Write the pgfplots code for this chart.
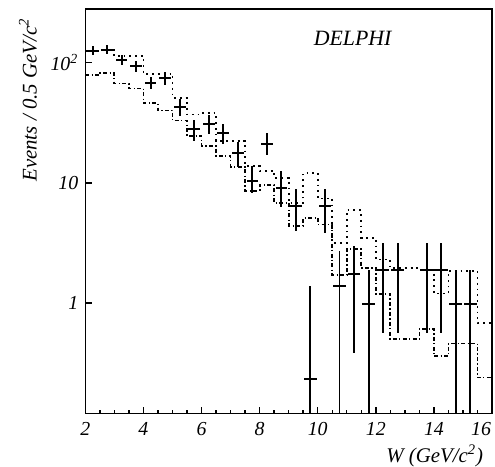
\documentclass[border=0pt]{standalone}
\usepackage{fontspec}
\setmainfont{Liberation Serif}
\usepackage{pgfplots}
\pgfplotsset{compat=1.18}
\usepackage{pgfplotstable}

% data points: bin centre, value, x half-width, y error plus, y error minus
\pgfplotstableread{
x     y      ex    ep    em
2.25  126    0.2   11    11
2.75  128    0.2   11    11
3.25  106    0.2   10    10
3.75  93     0.2   10    10
4.25  68     0.2   8     8
4.75  74     0.2   9     9
5.25  43     0.2   7     7
5.75  28     0.2   5.5   5.5
6.25  31     0.2   5.5   5.5
6.75  26     0.2   5     5
7.25  17.8   0.2   4.2   4.2
7.75  10.4   0.2   3.4   2.2
8.25  21.1   0.2   5.0   4.2
8.75  9.1    0.2   3.5   2.8
9.25  6.4    0.2   2.5   2.4
9.75  0.233  0.22  1.16  0.2
10.25 6.4    0.2   2.5   2.6
10.75 1.39   0.22  1.32  1.35
11.25 1.74   0.22  1.24  1.36
11.75 0.98   0.22  0.9   0.95
12.25 1.88   0.22  1.28  1.32
12.75 1.88   0.22  1.28  1.32
13.75 1.88   0.22  1.28  1.32
14.25 1.88   0.22  1.28  1.32
14.75 0.98   0.22  0.9   0.95
15.25 0.98   0.22  0.9   0.95
}\datatable

% upper (dotted) histogram: left bin edge, content
\pgfplotstableread{
x    y
2.0  125
2.5  128
3.0  113
3.5  113
4.0  81
4.5  81
5.0  51
5.5  37
6.0  38
6.5  22.4
7.0  22.4
7.5  13.8
8.0  12.6
8.5  11
9.0  6.8
9.5  12.1
10.0 7.4
10.5 3.16
11.0 5.9
11.5 3.5
12.0 2.3
12.5 1.95
13.0 1.95
13.5 1.9
14.0 1.2
14.5 1.85
15.0 1.85
15.5 0.68
16.0 0.68
}\upperhist

% lower (dash-dotted) histogram
\pgfplotstableread{
x    y
2.0  79
2.5  82
3.0  67
3.5  61
4.0  46
4.5  40
5.0  33
5.5  24.6
6.0  20.3
6.5  16.8
7.0  13.6
7.5  8.6
8.0  9.6
8.5  6.8
9.0  4.4
9.5  5.1
10.0 4.5
10.5 1.7
11.0 2.8
11.5 1.96
12.0 1.19
12.5 0.5
13.0 0.5
13.5 0.61
14.0 0.36
14.5 0.46
15.0 0.46
15.5 0.24
16.0 0.24
}\lowerhist

\begin{document}
\begin{tikzpicture}
\begin{axis}[
  name=ax,
  scale only axis,
  width=205pt, height=204pt,
  xmin=2, xmax=16,
  ymode=log, log basis y=10,
  ymin=0.12, ymax=280,
  axis line style={line width=0.8pt},
  tick style={line width=0.7pt, black},
  tick pos=left,
  tick align=inside,
  major tick length=3.5pt,
  minor tick length=2pt,
  xtick={2,4,6,8,10,12,14,16},
  xticklabels={\textit{2},\textit{4},\textit{6},\textit{8},\textit{10},\textit{12},\textit{14},\makebox[0pt][r]{\textit{16}\hspace{0.5pt}}},
  minor x tick num=3,
  ytick={1,10,100},
  yticklabels={\textit{1},\textit{10},\textit{10}\textsuperscript{\textit{2}}},
  ticklabel style={font=\fontsize{10}{12}\selectfont},
  xticklabel style={yshift=-1pt},
  ylabel={\textit{Events / 0.5 GeV/c}\textsuperscript{\textit{2}}},
  ylabel style={at={(ticklabel cs:0.775)}, font=\fontsize{10.5}{12}\selectfont},
  xlabel={\textit{W (GeV/c}\textsuperscript{\textit{2}}\textit{)}},
  xlabel style={at={(rel axis cs:1,0)}, anchor=north east, yshift=-12pt, xshift=-1pt, font=\fontsize{10.5}{12}\selectfont},
]
\addplot[const plot, black, line width=0.9pt, dotted] table[x=x,y=y] {\upperhist};
\addplot[const plot, black, line width=0.9pt, dash pattern=on 2pt off 1.2pt on 0.6pt off 1.2pt] table[x=x,y=y] {\lowerhist};
\addplot[draw=none, mark=none,
  error bars/.cd, x dir=both, x explicit, y dir=both, y explicit, error mark=none,
  error bar style={draw=black, line width=1pt, solid}]
  table[x=x, y=y, x error=ex, y error plus=ep, y error minus=em] {\datatable};
\node[font=\itshape\fontsize{11}{13}\selectfont] at (axis cs:11.2,158) {DELPHI};
\end{axis}
\pgfresetboundingbox
\path[use as bounding box] ([xshift=-43pt,yshift=-26.5pt]ax.south west) rectangle ([xshift=1.5pt,yshift=4.5pt]ax.north east);
\end{tikzpicture}
\end{document}
